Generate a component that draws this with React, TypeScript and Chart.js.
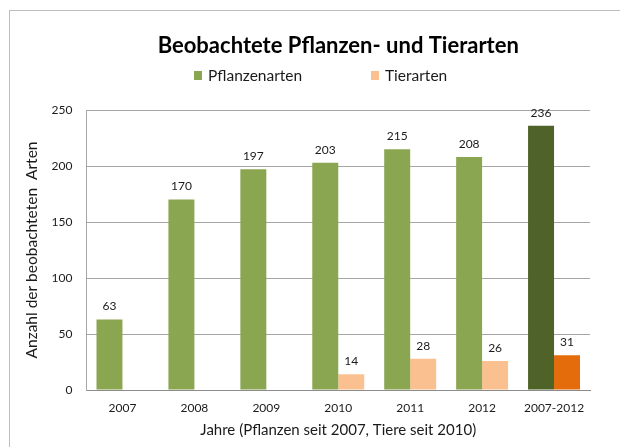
import React, { useEffect, useRef } from "react";
import { Chart, registerables } from "chart.js";

Chart.register(...registerables);

const categories = ["2007", "2008", "2009", "2010", "2011", "2012", "2007-2012"];
const plantValues: (number | null)[] = [63, 170, 197, 203, 215, 208, 236];
const animalValues: (number | null)[] = [null, null, null, 14, 28, 26, 31];
const plantColors = ["#8BA650", "#8BA650", "#8BA650", "#8BA650", "#8BA650", "#8BA650", "#4F6228"];
const animalColors = ["#FAC090", "#FAC090", "#FAC090", "#FAC090", "#FAC090", "#FAC090", "#E46C0A"];
const seriesNames = ["Pflanzenarten", "Tierarten"];
const legendColors = ["#8BA650", "#FAC090"];
const yTicks = { min: 0, max: 250, step: 50 };

const FONT = "Lato, 'Open Sans', sans-serif";

const frameAndLabels = {
  id: "frameAndLabels",
  beforeDraw(chart: any) {
    const { ctx, width, height } = chart;
    ctx.save();
    ctx.fillStyle = "#ffffff";
    ctx.fillRect(0, 0, width, height);
    ctx.strokeStyle = "#bdbdbd";
    ctx.lineWidth = 1;
    ctx.strokeRect(9.5, 10.5, width + 20, height + 20);
    ctx.restore();
  },
  afterDatasetsDraw(chart: any) {
    const { ctx } = chart;
    ctx.save();
    ctx.font = `12px ${FONT}`;
    ctx.fillStyle = "#1a1a1a";
    ctx.textAlign = "center";
    ctx.textBaseline = "middle";
    chart.data.datasets.forEach((ds: any, di: number) => {
      const meta = chart.getDatasetMeta(di);
      meta.data.forEach((el: any, i: number) => {
        const v = ds.data[i];
        if (v === null || v === undefined) return;
        ctx.fillText(String(v), el.x, el.y - 13);
      });
    });
    ctx.restore();
  },
  afterDraw(chart: any) {
    const { ctx } = chart;
    ctx.save();
    ctx.font = `15.5px ${FONT}`;
    ctx.textBaseline = "middle";
    ctx.textAlign = "left";
    const starts = [194, 371];
    seriesNames.forEach((name, i) => {
      const x = starts[i];
      ctx.fillStyle = legendColors[i];
      ctx.fillRect(x, 71, 8, 9);
      ctx.fillStyle = "#1a1a1a";
      ctx.fillText(name, x + 14, 76);
    });
    ctx.restore();
  },
};

export default function App() {
  const canvasRef = useRef<HTMLCanvasElement | null>(null);

  useEffect(() => {
    document.body.style.margin = "0";
    const canvas = canvasRef.current;
    if (!canvas) return;
    const chart = new Chart(canvas, {
      type: "bar",
      data: {
        labels: categories,
        datasets: [
          {
            label: seriesNames[0],
            data: plantValues,
            backgroundColor: plantColors,
            categoryPercentage: 0.722,
            barPercentage: 1,
          },
          {
            label: seriesNames[1],
            data: animalValues,
            backgroundColor: animalColors,
            categoryPercentage: 0.722,
            barPercentage: 1,
          },
        ],
      },
      options: {
        animation: false,
        responsive: true,
        maintainAspectRatio: false,
        layout: { padding: { left: 20, right: 30, top: 0, bottom: 4 } },
        plugins: {
          legend: { display: false },
          tooltip: { enabled: false },
          title: {
            display: true,
            text: "Beobachtete Pflanzen- und Tierarten",
            fullSize: false,
            color: "#000000",
            font: { family: FONT, size: 22, weight: "bold", lineHeight: 1.2 },
            padding: { top: 32.8, bottom: 50.8 },
          },
        },
        scales: {
          x: {
            grid: { display: false, drawTicks: false },
            border: { display: true, color: "#8c8c8c", width: 1 },
            ticks: { color: "#1a1a1a", font: { family: FONT, size: 12 }, padding: 11, maxRotation: 0 },
            title: {
              display: true,
              text: "Jahre (Pflanzen seit 2007, Tiere seit 2010)",
              color: "#1a1a1a",
              font: { family: FONT, size: 15, lineHeight: 1.2 },
              padding: { top: 4, bottom: 4 },
            },
            afterFit(scale: any) {
              scale.height = 53;
            },
          },
          y: {
            min: yTicks.min,
            max: yTicks.max,
            grid: { color: "#a6a6a6", lineWidth: 1, drawTicks: false },
            border: { display: true, color: "#a6a6a6", width: 1 },
            ticks: { stepSize: yTicks.step, color: "#1a1a1a", font: { family: FONT, size: 12 }, padding: 14 },
            title: {
              display: true,
              text: "Anzahl der beobachteten  Arten",
              color: "#1a1a1a",
              font: { family: FONT, size: 15.5, lineHeight: 1.2 },
              padding: { top: 3, bottom: 4 },
            },
            afterFit(scale: any) {
              scale.width = 66.5;
            },
          },
        },
      },
      plugins: [frameAndLabels],
    });
    return () => chart.destroy();
  }, []);

  return (
    <div style={{ position: "absolute", left: 0, top: 0, width: 620, height: 447 }}>
      <canvas ref={canvasRef} />
    </div>
  );
}
